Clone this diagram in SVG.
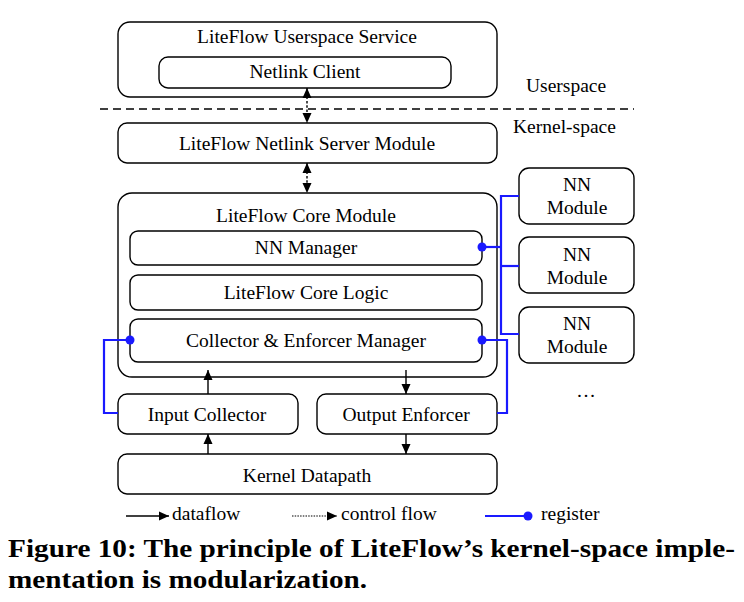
<svg xmlns="http://www.w3.org/2000/svg" width="744" height="602" viewBox="0 0 744 602">
<defs>
<style>
.box{fill:#fff;stroke:#000;stroke-width:1.4}
.t{font-family:"Liberation Serif","Times New Roman",serif;font-size:19.5px;fill:#000;text-anchor:middle}
.tl{font-family:"Liberation Serif","Times New Roman",serif;font-size:19.5px;fill:#000}
.cap{font-family:"Liberation Serif","Times New Roman",serif;font-size:26px;font-weight:bold;fill:#000}
.df{stroke:#000;stroke-width:1.4;fill:none}
.cf{stroke:#000;stroke-width:1.4;fill:none;stroke-dasharray:2.5,1.8}
.reg{stroke:#1a1aff;stroke-width:2.2;fill:none}
.dot{fill:#1a1aff}
</style>
<marker id="ah" viewBox="0 0 10 10" refX="10" refY="5" markerWidth="10" markerHeight="10" markerUnits="userSpaceOnUse" orient="auto-start-reverse">
<path d="M0,0.5 L10,5 L0,9.5 z" fill="#000"/>
</marker>
</defs>

<line x1="100" y1="109" x2="634" y2="109" stroke="#000" stroke-width="1.4" stroke-dasharray="8,5"/>
<text class="tl" x="526" y="92">Userspace</text>
<text class="tl" x="513" y="133">Kernel-space</text>

<g id="userspace-service">
<rect class="box" x="118" y="22" width="379" height="75" rx="12"/>
<text class="t" x="307" y="43">LiteFlow Userspace Service</text>
</g>
<g id="netlink-client">
<rect class="box" x="159" y="57" width="292" height="31" rx="9"/>
<text class="t" x="305" y="78">Netlink Client</text>
</g>
<g id="netlink-server">
<rect class="box" x="118" y="123" width="379" height="40" rx="9"/>
<text class="t" x="307" y="150">LiteFlow Netlink Server Module</text>
</g>
<g id="core-module">
<rect class="box" x="118" y="193" width="379" height="184" rx="14"/>
<text class="t" x="306" y="222">LiteFlow Core Module</text>
</g>
<g id="nn-manager">
<rect class="box" x="130" y="231" width="352" height="34" rx="8"/>
<text class="t" x="306" y="254">NN Manager</text>
</g>
<g id="core-logic">
<rect class="box" x="130" y="275" width="352" height="35" rx="8"/>
<text class="t" x="306" y="299">LiteFlow Core Logic</text>
</g>
<g id="collector-enforcer-manager">
<rect class="box" x="130" y="319" width="352" height="43" rx="8"/>
<text class="t" x="306" y="347">Collector &amp; Enforcer Manager</text>
</g>
<g id="nn-module-1">
<rect class="box" x="519" y="168" width="115" height="56" rx="10"/>
<text class="t" x="577" y="191">NN</text>
<text class="t" x="577" y="214">Module</text>
</g>
<g id="nn-module-2">
<rect class="box" x="519" y="237" width="115" height="56" rx="10"/>
<text class="t" x="577" y="261">NN</text>
<text class="t" x="577" y="284">Module</text>
</g>
<g id="nn-module-3">
<rect class="box" x="519" y="307" width="115" height="56" rx="10"/>
<text class="t" x="577" y="330">NN</text>
<text class="t" x="577" y="353">Module</text>
</g>
<text class="t" x="586" y="397">…</text>
<g id="input-collector">
<rect class="box" x="118" y="394" width="180" height="40" rx="9"/>
<text class="t" x="207" y="421">Input Collector</text>
</g>
<g id="output-enforcer">
<rect class="box" x="317" y="394" width="180" height="40" rx="9"/>
<text class="t" x="406" y="421">Output Enforcer</text>
</g>
<g id="kernel-datapath">
<rect class="box" x="118" y="454" width="379" height="40" rx="9"/>
<text class="t" x="307" y="482">Kernel Datapath</text>
</g>

<g id="connectors">
<line class="cf" x1="307" y1="88" x2="307" y2="123" marker-start="url(#ah)" marker-end="url(#ah)"/>
<line class="cf" x1="307" y1="163" x2="307" y2="193" marker-start="url(#ah)" marker-end="url(#ah)"/>
<line class="df" x1="208" y1="394" x2="208" y2="370" marker-end="url(#ah)"/>
<line class="df" x1="406" y1="370" x2="406" y2="394" marker-end="url(#ah)"/>
<line class="df" x1="208" y1="454" x2="208" y2="434" marker-end="url(#ah)"/>
<line class="df" x1="406" y1="434" x2="406" y2="454" marker-end="url(#ah)"/>
<polyline class="reg" points="482,247 501,247"/>
<polyline class="reg" points="519,196 501,196 501,334 519,334"/>
<polyline class="reg" points="501,266 519,266"/>
<polyline class="reg" points="130,340 104,340 104,413 118,413"/>
<polyline class="reg" points="482,340 507,340 507,413 497,413"/>
<circle class="dot" cx="482" cy="247" r="4.5"/>
<circle class="dot" cx="130" cy="340" r="4.5"/>
<circle class="dot" cx="482" cy="340" r="4.5"/>
</g>

<g id="legend">
<line class="df" x1="126" y1="516" x2="169" y2="516" marker-end="url(#ah)"/>
<text class="tl" x="172" y="520">dataflow</text>
<line stroke="#000" stroke-width="1.2" stroke-dasharray="1.5,1.2" x1="292" y1="516" x2="337" y2="516" marker-end="url(#ah)"/>
<text class="tl" x="341" y="520">control flow</text>
<line class="reg" x1="485" y1="516" x2="528" y2="516"/>
<circle class="dot" cx="528" cy="516" r="4.5"/>
<text class="tl" x="541" y="520">register</text>
</g>

<text class="cap" x="8" y="557" textLength="727" lengthAdjust="spacingAndGlyphs">Figure 10: The principle of LiteFlow’s kernel-space imple-</text>
<text class="cap" x="8" y="588" textLength="359" lengthAdjust="spacingAndGlyphs">mentation is modularization.</text>
</svg>
